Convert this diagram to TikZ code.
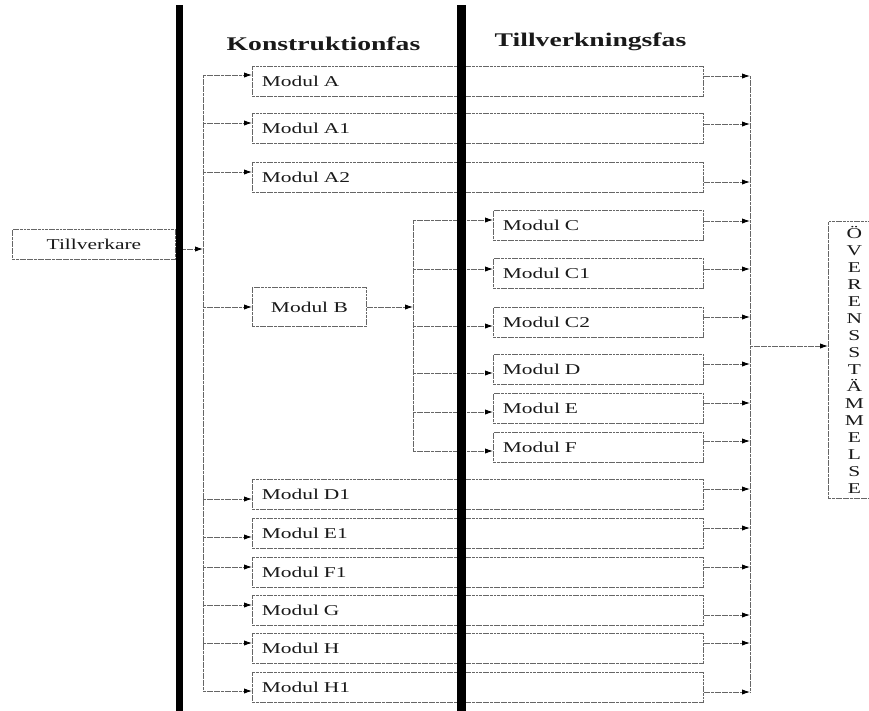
\documentclass[tikz,border=0pt]{standalone}
\usepackage{fontspec}
\setmainfont{Liberation Serif}[FakeStretch=1.43]
\usetikzlibrary{arrows.meta}
\begin{document}
\begin{tikzpicture}[x=0.75pt,y=-0.75pt,
  ln/.style={draw=black!60, line width=0.65pt, dash pattern=on 2.2pt off 0.5pt},
  arr/.style={ln, -{Latex[length=6pt,width=4pt,black]}},
  box/.style={ln, rectangle, inner ysep=0pt, inner xsep=0pt, anchor=north west,
    font=\fontsize{11.25pt}{13pt}\selectfont, text=black!90},
  wide/.style={box, inner xsep=7pt, minimum width=338.25pt, text width=324.25pt, align=left, minimum height=22.2pt},
  narrow/.style={box, inner xsep=7pt, minimum width=157.5pt, text width=143.5pt, align=left, minimum height=22.2pt},
  head/.style={font=\fontsize{14.5pt}{17pt}\selectfont\bfseries, text=black!90, inner sep=0pt},
  bar/.style={fill=black, draw=none}
]
\useasboundingbox (0,0) rectangle (869,711);

% headings
\node[head] (k) at (323.5,44) {Konstruktionfas};
\node[head] (t) at (590.5,42) {Tillverkningsfas};

% boxes
\node[box, minimum width=122.25pt, minimum height=22.5pt] (TV) at (12,229) {Tillverkare};
\node[wide] (A)  at (252,66)  {Modul A};
\node[wide] (A1) at (252,113) {Modul A1};
\node[wide] (A2) at (252,162) {Modul A2};
\node[box, minimum width=85.5pt, minimum height=29.25pt] (B) at (252,287) {Modul B};
\node[narrow] (C)  at (493,210) {Modul C};
\node[narrow] (C1) at (493,258) {Modul C1};
\node[narrow] (C2) at (493,307) {Modul C2};
\node[narrow] (D)  at (493,354) {Modul D};
\node[narrow] (E)  at (493,393) {Modul E};
\node[narrow] (F)  at (493,432) {Modul F};
\node[wide] (D1) at (252,479) {Modul D1};
\node[wide] (E1) at (252,518) {Modul E1};
\node[wide] (F1) at (252,557) {Modul F1};
\node[wide] (G)  at (252,595) {Modul G};
\node[wide] (H)  at (252,633) {Modul H};
\node[wide] (H1) at (252,672) {Modul H1};
\node[box, minimum width=39pt, minimum height=207.75pt, align=center,
  font=\fontsize{11.25pt}{12.75pt}\selectfont] (O) at (828,221)
  {Ö\\V\\E\\R\\E\\N\\S\\S\\T\\Ä\\M\\M\\E\\L\\S\\E};

% left branch
\coordinate (Ltop) at (203,75);
\coordinate (Lbot) at (203,691);
\draw[ln] (Ltop) -- (Lbot);
\coordinate (lT) at (203,249);
\draw[arr] (TV.east |- lT) -- (lT);
\foreach \n/\y in {A/75, A1/123, A2/172, B/307, D1/499, E1/537, F1/567, G/605, H/643, H1/691} {
  \coordinate (l\n) at (203,\y);
  \draw[arr] (l\n) -- (\n.west |- l\n);
}

% B branch
\coordinate (Mtop) at (413,221);
\coordinate (Mbot) at (413,451);
\draw[ln] (Mtop) -- (Mbot);
\coordinate (mB) at (413,307);
\draw[arr] (B.east |- mB) -- (mB);
\foreach \n/\y in {C/220, C1/269, C2/326, D/373, E/412, F/451} {
  \coordinate (m\n) at (413,\y);
  \draw[arr] (m\n) -- (\n.west |- m\n);
}

% collector
\coordinate (Rtop) at (750,76);
\coordinate (Rbot) at (750,692);
\draw[ln] (Rtop) -- (Rbot);
\foreach \n/\y in {A/76, A1/124, A2/182, C/221, C1/269, C2/317, D/364, E/403, F/441, D1/489, E1/528, F1/567, G/615, H/643, H1/692} {
  \coordinate (r\n) at (750,\y);
  \draw[arr] (\n.east |- r\n) -- (r\n);
}
\coordinate (rO) at (750,346);
\draw[arr] (rO) -- (O.west |- rO);

% phase bars
\path[bar] (176,5) rectangle (183,711);
\path[bar] (457,5) rectangle (466,711);
\end{tikzpicture}
\end{document}
